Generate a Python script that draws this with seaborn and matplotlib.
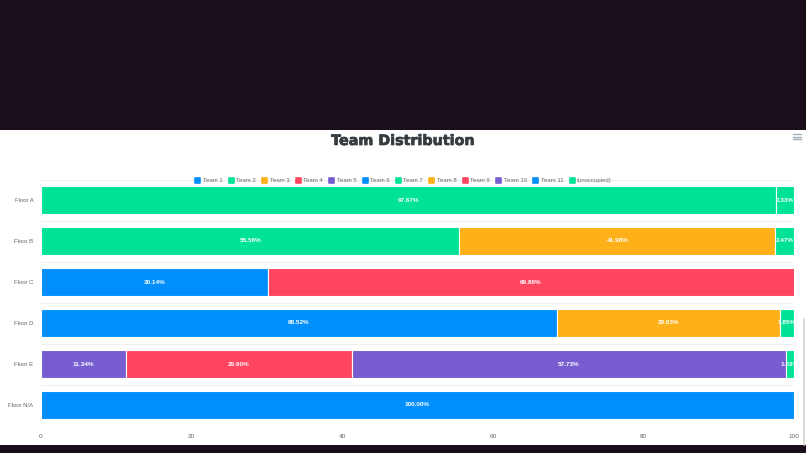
import matplotlib
matplotlib.use("Agg")
import matplotlib.pyplot as plt
import matplotlib.patheffects as pe
from matplotlib.lines import Line2D
from matplotlib.markers import MarkerStyle
from matplotlib.patches import Rectangle
import numpy as np
import seaborn as sns

floors = ["Floor A", "Floor B", "Floor C", "Floor D", "Floor E", "Floor N/A"]
legend_names = ["Team 1", "Team 2", "Team 3", "Team 4", "Team 5", "Team 6", "Team 7",
                "Team 8", "Team 9", "Team 10", "Team 11", "(unoccupied)"]
palette = ["#008FFB", "#00E396", "#FEB019", "#FF4560", "#775DD0", "#008FFB", "#00E396",
           "#FEB019", "#FF4560", "#775DD0", "#008FFB", "#00E396"]

# segments per floor, left to right
floor_a_teams = ["Team 2", "(unoccupied)"]
floor_a_values = [97.67, 2.33]
floor_b_teams = ["Team 7", "Team 8", "(unoccupied)"]
floor_b_values = [55.56, 41.98, 2.47]
floor_c_teams = ["Team 1", "Team 4"]
floor_c_values = [30.14, 69.86]
floor_d_teams = ["Team 6", "Team 3", "(unoccupied)"]
floor_d_values = [68.52, 29.63, 1.85]
floor_e_teams = ["Team 5", "Team 9", "Team 10", "(unoccupied)"]
floor_e_values = [11.34, 29.90, 57.73, 1.03]
floor_na_teams = ["Team 11"]
floor_na_values = [100.0]

all_teams = [floor_a_teams, floor_b_teams, floor_c_teams, floor_d_teams, floor_e_teams, floor_na_teams]
all_values = [floor_a_values, floor_b_values, floor_c_values, floor_d_values, floor_e_values, floor_na_values]

W, H = 806, 453
BG_DARK = "#1a0e1a"

sns.set_theme(style="white")
plt.rcParams["font.family"] = ["Liberation Sans", "DejaVu Sans"]

fig = plt.figure(figsize=(W / 100, H / 100), dpi=100, facecolor=BG_DARK)
# white page area between the dark bands
fig.patches.append(Rectangle((0, 1 - 445 / H), 1, (445 - 130) / H, transform=fig.transFigure,
                             facecolor="white", edgecolor="none", zorder=-5))

ax = fig.add_axes([41 / W, 1 - 425.5 / H, (794 - 41) / W, (425.5 - 179.5) / H])
ax.set_facecolor("none")

colors = dict(zip(legend_names, palette))
for floor, teams, values in zip(floors, all_teams, all_values):
    left = 0.0
    for team, value in zip(teams, values):
        sns.barplot(x=[value], y=[floor], order=floors, left=left, color=colors[team],
                    saturation=1, width=0.68, edgecolor="white", linewidth=0.8, ax=ax, zorder=3)
        ax.bar_label(ax.containers[-1], labels=[f"{value:.2f}%"], label_type="center",
                     color="white", fontsize=4.6, fontweight="bold", clip_on=True, zorder=4)
        left += value

ax.set_xlim(0, 100)
ax.set_ylim(5.5, -0.5)
ax.set_xlabel("")
ax.set_ylabel("")
ax.set_xticks([0, 20, 40, 60, 80, 100])
ax.set_yticks(np.arange(-0.5, 6), minor=True)
ax.grid(True, which="minor", axis="y", color="#efefef", linewidth=0.8, zorder=0)
ax.tick_params(axis="both", which="both", length=0)
ax.tick_params(axis="x", labelsize=4.6, labelcolor="#666666", pad=6)
ax.tick_params(axis="y", labelsize=4.3, labelcolor="#666666", pad=5.5)
sns.despine(ax=ax, left=True, bottom=True)

swatch = MarkerStyle("s", joinstyle="round")
handles = [Line2D([], [], linestyle="none", marker=swatch, markersize=3.6, markeredgewidth=1.2,
                  color=c) for c in palette]
fig.legend(handles, legend_names, loc="center", bbox_to_anchor=(403 / W, 1 - 180.5 / H), ncol=12,
           frameon=False, fontsize=4.3, labelcolor="#666666", handletextpad=0.4, columnspacing=0.9,
           handlelength=1, borderpad=0, borderaxespad=0)

title = fig.text(403 / W, 1 - 141 / H, "Team Distribution", ha="center", va="center",
                 fontsize=10.3, fontweight="bold", color="#373d3f", family=["DejaVu Sans"])
title.set_path_effects([pe.withStroke(linewidth=0.5, foreground="#373d3f")])

# hamburger menu icon, top right
for y in (134.2, 136.6, 139):
    fig.add_artist(Line2D([793 / W, 801 / W], [1 - y / H, 1 - y / H], color="#a4aeb8", linewidth=1.0))

# page scrollbar
fig.add_artist(Line2D([803.5 / W, 803.5 / W], [1 - 319 / H, 1 - 445 / H], color="#d8d8d8", linewidth=1.3))

fig.savefig("out.png", dpi=100, facecolor=fig.get_facecolor())
